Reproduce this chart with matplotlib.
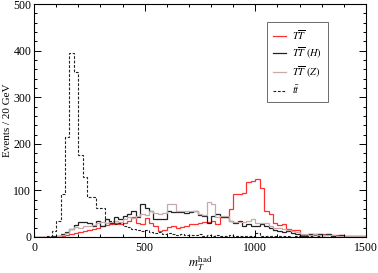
import numpy as np
import matplotlib
matplotlib.use("Agg")
import matplotlib.pyplot as plt
from matplotlib.ticker import MultipleLocator

plt.rcParams['font.family'] = ['Liberation Serif', 'DejaVu Serif']
plt.rcParams['mathtext.fontset'] = 'stix'

# 20 GeV bins from 0 to 1500
edges = np.arange(0, 1520, 20)

tt_bar = [0, 0, 0, 2, 12, 35, 93, 214, 394, 355,
          175, 128, 85, 85, 63, 63, 39, 35, 28, 30,
          24, 22, 18, 16, 12, 14, 10, 8, 11, 7,
          9, 6, 5, 7, 4, 5, 4, 6, 3, 5,
          3, 4, 3, 2, 4, 2, 3, 2, 3, 2,
          9, 2, 2, 1, 1, 2, 1, 1, 0, 1,
          1, 0, 1, 0, 1, 0, 0, 1, 0, 0,
          0, 0, 0, 0, 0]

TT_H = [0, 0, 0, 0, 1, 3, 7, 10, 17, 26,
        33, 33, 31, 24, 35, 24, 38, 31, 42, 38,
        45, 50, 56, 42, 71, 63, 56, 39, 38, 38,
        56, 53, 53, 53, 51, 53, 56, 48, 45, 31,
        45, 50, 42, 42, 35, 31, 35, 24, 28, 24,
        24, 28, 24, 20, 15, 13, 11, 13, 9, 7,
        2, 3, 7, 7, 6, 5, 7, 3, 3, 4,
        2, 3, 2, 1, 2]

TT_Z = [0, 0, 0, 0, 0, 1, 4, 8, 17, 22,
        20, 24, 24, 26, 30, 32, 30, 33, 35, 33,
        38, 42, 40, 45, 50, 48, 56, 52, 50, 52,
        70, 70, 56, 55, 55, 56, 56, 50, 48, 75,
        70, 42, 45, 45, 35, 32, 32, 32, 35, 39,
        31, 31, 31, 24, 20, 20, 17, 15, 12, 10,
        7, 6, 5, 6, 5, 4, 5, 4, 3, 3,
        2, 2, 2, 1, 1]

TT = [0, 0, 0, 0, 0, 1, 2, 4, 6, 8,
      10, 13, 16, 18, 20, 24, 26, 28, 29, 28,
      30, 35, 42, 30, 28, 40, 30, 24, 13, 14,
      22, 24, 20, 22, 24, 28, 28, 31, 33, 33,
      35, 28, 42, 42, 60, 93, 93, 95, 117, 121,
      125, 105, 55, 50, 31, 26, 28, 17, 14, 14,
      5, 5, 6, 4, 7, 6, 6, 5, 4, 4,
      3, 2, 2, 1, 1]

fig = plt.figure(figsize=(3.78, 2.73), dpi=100)
ax = fig.add_axes([0.090, 0.132, 0.878, 0.853])

ax.stairs(TT, edges, color='#ff3030', lw=0.9, label=r'$T\overline{T}$')
ax.stairs(TT_H, edges, color='#222222', lw=0.9, label=r'$T\overline{T}\ (H)$')
ax.stairs(TT_Z, edges, color='#c8aaaa', lw=0.9, label=r'$T\overline{T}\ (Z)$')
ax.stairs(tt_bar, edges, color='#222222', lw=0.8, ls=(0, (2.5, 1.5)),
          label=r'$t\bar{t}$')

ax.set_xlim(0, 1500)
ax.set_ylim(0, 500)
ax.xaxis.set_major_locator(MultipleLocator(500))
ax.xaxis.set_minor_locator(MultipleLocator(100))
ax.yaxis.set_major_locator(MultipleLocator(100))
ax.yaxis.set_minor_locator(MultipleLocator(20))
ax.tick_params(which='both', direction='in', top=True, right=True,
               labelsize=8.5, width=0.7)
ax.tick_params(which='major', length=5)
ax.tick_params(which='minor', length=2.5)
ax.tick_params(axis='y', pad=2)
for s in ax.spines.values():
    s.set_linewidth(0.8)

ax.set_ylabel('Events / 20 GeV', fontsize=8)
ax.yaxis.set_label_coords(-0.066, 0.5)
ax.set_xlabel(r'$m_T^{\rm had}$', fontsize=9, labelpad=0)

leg = ax.legend(loc='upper right', bbox_to_anchor=(0.886, 0.925), fontsize=7.5,
                frameon=True, fancybox=False, edgecolor='#444444',
                handlelength=1.2, handletextpad=0.6, borderpad=0.6,
                labelspacing=0.35, borderaxespad=0)
leg.get_frame().set_linewidth(0.7)

fig.savefig('out.png', dpi=100)
